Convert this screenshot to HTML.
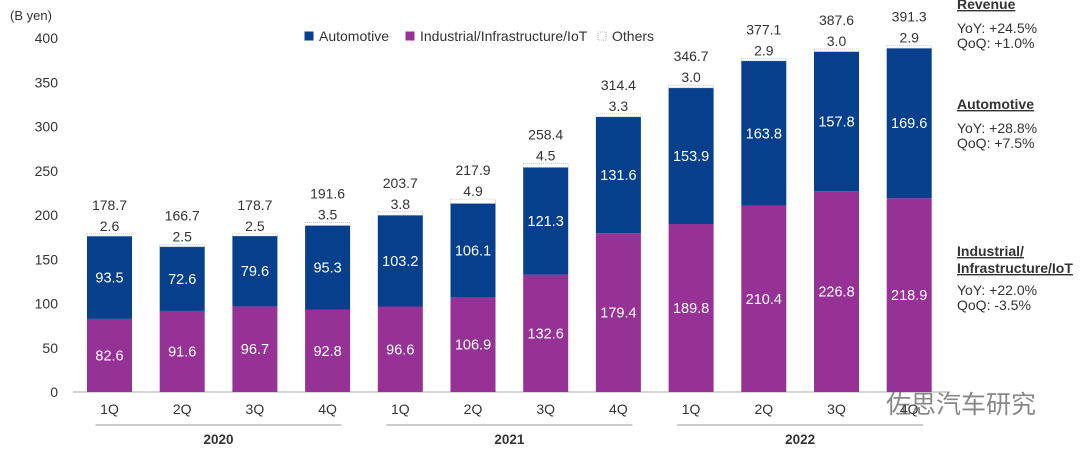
<!DOCTYPE html>
<html><head><meta charset="utf-8"><style>
body{margin:0;background:#fff;}
svg{display:block;font-family:"Liberation Sans","Noto Sans CJK SC",sans-serif;}
</style></head><body>
<svg id="c" width="1080" height="451"></svg>
<script>
const quarters=["1Q","2Q","3Q","4Q","1Q","2Q","3Q","4Q","1Q","2Q","3Q","4Q"];
const industrial=[82.6,91.6,96.7,92.8,96.6,106.9,132.6,179.4,189.8,210.4,226.8,218.9];
const automotive=[93.5,72.6,79.6,95.3,103.2,106.1,121.3,131.6,153.9,163.8,157.8,169.6];
const others=[2.6,2.5,2.5,3.5,3.8,4.9,4.5,3.3,3.0,2.9,3.0,2.9];
const totals=[178.7,166.7,178.7,191.6,203.7,217.9,258.4,314.4,346.7,377.1,387.6,391.3];
const yTicks=[0,50,100,150,200,250,300,350,400];
const years=["2020","2021","2022"];
const NS="http://www.w3.org/2000/svg";
const svg=document.getElementById('c');
const y0=392,k=0.885;
const Y=v=>y0-v*k;
const X=i=>109.5+i*72.7;
const bw=45;
function el(t,a,txt){const e=document.createElementNS(NS,t);for(const n in a)e.setAttribute(n,a[n]);if(txt!==undefined)e.textContent=txt;svg.appendChild(e);return e;}
let e=el('text',{x:10,y:20,'font-size':13,fill:'#333'},'(B yen)');


yTicks.forEach(t=>{const e=el('text',{x:58,y:Y(t)+5,'font-size':14,fill:'#333','text-anchor':'end'},t);

});
e=el('line',{x1:73,x2:950,y1:y0,y2:y0,stroke:'#aaa','stroke-width':1});


quarters.forEach((q,i)=>{
 const x=X(i)-bw/2;
 let r=el('rect',{x:x,y:Y(industrial[i]),width:bw,height:industrial[i]*k,fill:'#963296'});
 
 
 const a0=industrial[i],a1=a0+automotive[i],o1=a1+others[i];
 r=el('rect',{x:x,y:Y(a1),width:bw,height:automotive[i]*k,fill:'#063F8B'});
 
 
 r=el('rect',{x:x,y:Y(o1),width:bw,height:others[i]*k,fill:'#fff',stroke:'#bbb','stroke-dasharray':'1,1','stroke-width':0.8});
 
 
 let t=el('text',{x:X(i),y:Y(a0/2)+5,'font-size':14.5,fill:'#fff','text-anchor':'middle'},industrial[i].toFixed(1));
 
 
 t=el('text',{x:X(i),y:Y(a0+automotive[i]/2)+5,'font-size':14.5,fill:'#fff','text-anchor':'middle'},automotive[i].toFixed(1));
 
 
 t=el('text',{x:X(i),y:Y(o1)-3,'font-size':14,fill:'#333','text-anchor':'middle'},others[i].toFixed(1));
 
 
 t=el('text',{x:X(i),y:Y(o1)-24,'font-size':14,fill:'#333','text-anchor':'middle'},totals[i].toFixed(1));
 
 
 t=el('text',{x:X(i),y:414,'font-size':14,fill:'#333','text-anchor':'middle'},q);
 
 
});
years.forEach((yr,j)=>{
 const xa=X(j*4)-14,xb=X(j*4+3)+14;
 let l=el('line',{x1:xa,x2:xb,y1:425,y2:425,stroke:'#999','stroke-width':1});
 
 
 l=el('text',{x:(xa+xb)/2,y:444,'font-size':13.5,'font-weight':'bold',fill:'#333','text-anchor':'middle'},yr);
 
 
});
const leg=[["Automotive","#063F8B",305],["Industrial/Infrastructure/IoT","#963296",406],["Others","#fff",598]];
leg.forEach(([n,c,x])=>{
 let r=el('rect',{x:x,y:32,width:8,height:8,fill:c,stroke:c=="#fff"?'#bbb':c,'stroke-dasharray':c=="#fff"?'1,1':'none'});
 
 
 r=el('text',{x:x+14,y:41,'font-size':14,fill:'#333'},n);
 
 
});
const notes=[["Revenue",9,true],["YoY: +24.5%",33],["QoQ: +1.0%",48],["Automotive",109,true],["YoY: +28.8%",133],["QoQ: +7.5%",148],["Industrial/",256,true],["Infrastructure/IoT",273,true],["YoY: +22.0%",295],["QoQ: -3.5%",310]];
notes.forEach(([s,y,b])=>{
 const t=el('text',{x:957,y:y,'font-size':14,fill:'#333','font-weight':b?'bold':'normal','text-decoration':b?'underline':'none'},s);
 
 
});
e=el('text',{x:886,y:413,'font-size':25,fill:'#555','opacity':0.7},'佐思汽车研究');


</script>
</body></html>
